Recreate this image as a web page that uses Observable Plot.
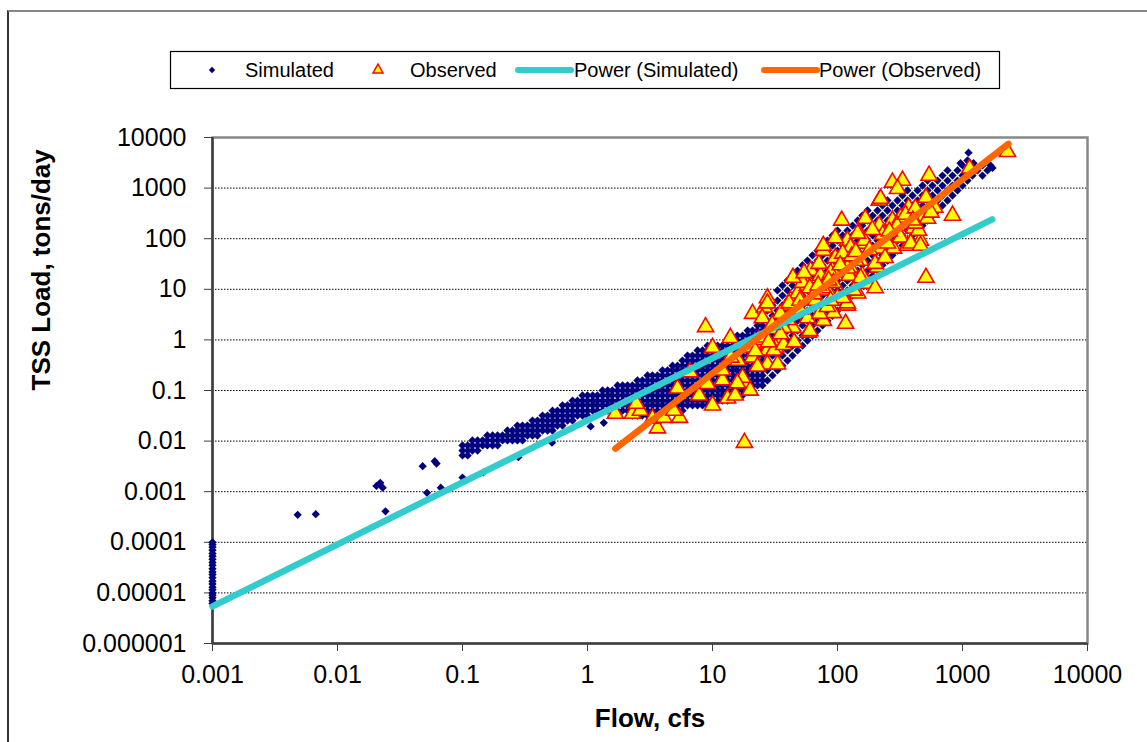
<!DOCTYPE html>
<html>
<head>
<meta charset="utf-8">
<script src="https://cdn.jsdelivr.net/npm/d3@7"></script>
<script src="https://cdn.jsdelivr.net/npm/@observablehq/plot@0.6"></script>
<style>
  html, body { margin: 0; padding: 0; background: #fff; overflow: hidden; }
  #wrap { position: relative; width: 1147px; height: 742px; overflow: hidden; font-family: "Liberation Sans", Arial, sans-serif; }
  #border { position: absolute; left: 7px; top: 10px; width: 1300px; height: 900px; border-left: 2px solid #333; border-top: 2px solid #888; box-sizing: border-box; }
  #chart { position: absolute; left: 0; top: 0; }
  #legend { position: absolute; left: 0; top: 0; }
</style>
</head>
<body>
<div id="wrap">
  <div id="border"></div>
  <div id="chart"></div>
  <svg id="legend" width="1147" height="110" font-family="Liberation Sans, Arial, sans-serif" font-size="20">
    <rect x="170.5" y="51.5" width="829" height="37" fill="#fff" stroke="#000" stroke-width="1.2"></rect>
    <path d="M212,66.8L215.2,70L212,73.2L208.8,70Z" fill="#000080"></path>
    <text x="245" y="77">Simulated</text>
    <path d="M378,64L383,73L373,73Z" fill="#ffff00" stroke="#ff0000" stroke-width="1.5"></path>
    <text x="410" y="77">Observed</text>
    <line x1="518" y1="70" x2="571" y2="70" stroke="#33cccc" stroke-width="6" stroke-linecap="round"></line>
    <text x="574" y="77">Power (Simulated)</text>
    <line x1="764" y1="70" x2="817" y2="70" stroke="#ff6600" stroke-width="6" stroke-linecap="round"></line>
    <text x="819" y="77">Power (Observed)</text>
  </svg>
</div>
<script>
// ---------- DATA ----------
const xTicks = [0.001, 0.01, 0.1, 1, 10, 100, 1000, 10000];
const yTicks = [0.000001, 0.00001, 0.0001, 0.001, 0.01, 0.1, 1, 10, 100, 1000, 10000];
const yGrid = [0.00001, 0.0001, 0.001, 0.01, 0.1, 1, 10, 100, 1000];

// Simulated: loads at zero-ish flow (0.001 cfs)
const simZeroFlow = 0.001;
const simZeroLoads = [0.0000062, 0.000007, 0.000008, 0.000009, 0.00001, 0.0000115, 0.000013, 0.000015, 0.000017, 0.00002, 0.000023, 0.000026, 0.00003, 0.000035, 0.00004, 0.000046, 0.000053, 0.00006, 0.00007, 0.00008, 0.00009, 0.0001];

// Simulated: scattered low-flow points
const simSparseFlow = [0.0048, 0.0067, 0.0205, 0.022, 0.023, 0.0242, 0.048, 0.06, 0.062, 0.052, 0.067, 0.1, 0.147, 0.28, 0.52, 1.06, 1.35];
const simSparseLoad = [0.00035, 0.00036, 0.0013, 0.0015, 0.0012, 0.00041, 0.0032, 0.004, 0.0036, 0.00095, 0.0012, 0.0019, 0.0024, 0.0048, 0.0093, 0.0195, 0.023];

// Simulated: main band, by flow with the loads read at that flow
const simColumns = [
  [0.1,[0.0082,0.0065,0.0052]],
  [0.11,[0.0082,0.0065,0.0052]],
  [0.12,[0.0103,0.0082,0.0065]],
  [0.132,[0.0103,0.0082,0.0065]],
  [0.145,[0.0103,0.0082]],
  [0.158,[0.0129,0.0103,0.0082]],
  [0.174,[0.0129,0.0103,0.0082]],
  [0.191,[0.0129,0.0103,0.0082]],
  [0.209,[0.0129,0.0103]],
  [0.229,[0.0162,0.0129,0.0103]],
  [0.251,[0.0162,0.0129,0.0103]],
  [0.275,[0.0203,0.0162,0.0129,0.0103]],
  [0.302,[0.0203,0.0162,0.0129,0.0103]],
  [0.331,[0.0203,0.0162,0.0129]],
  [0.363,[0.0255,0.0203,0.0162,0.0129]],
  [0.398,[0.0255,0.0203,0.0162,0.0129]],
  [0.437,[0.032,0.0255,0.0203,0.0162]],
  [0.479,[0.032,0.0255,0.0203,0.0162]],
  [0.525,[0.04,0.032,0.0255,0.0203,0.0162]],
  [0.575,[0.04,0.032,0.0255,0.0203]],
  [0.631,[0.051,0.04,0.032,0.0255,0.0203]],
  [0.692,[0.051,0.04,0.032,0.0255]],
  [0.759,[0.063,0.051,0.04,0.032,0.0255]],
  [0.832,[0.063,0.051,0.04,0.032]],
  [0.912,[0.08,0.063,0.051,0.04,0.032]],
  [1.0,[0.08,0.063,0.051,0.04,0.032]],
  [1.1,[0.08,0.063,0.051,0.04]],
  [1.2,[0.08,0.063,0.051,0.04]],
  [1.32,[0.1,0.08,0.063,0.051,0.04]],
  [1.45,[0.1,0.08,0.063,0.051,0.04]],
  [1.58,[0.1,0.08,0.063,0.051,0.04]],
  [1.74,[0.126,0.1,0.08,0.063,0.051,0.04]],
  [1.91,[0.126,0.1,0.08,0.063,0.051,0.04]],
  [2.09,[0.126,0.1,0.08,0.063,0.051,0.04]],
  [2.29,[0.126,0.1,0.08,0.063,0.051,0.04,0.032]],
  [2.51,[0.158,0.126,0.1,0.08,0.063,0.051,0.04,0.032]],
  [2.75,[0.158,0.126,0.1,0.08,0.063,0.051,0.04,0.032]],
  [3.02,[0.198,0.158,0.126,0.1,0.08,0.063,0.051,0.04,0.032]],
  [3.31,[0.198,0.158,0.126,0.1,0.08,0.063,0.051,0.04,0.032]],
  [3.63,[0.198,0.158,0.126,0.1,0.08,0.063,0.051,0.04]],
  [3.98,[0.25,0.198,0.158,0.126,0.1,0.08,0.063,0.051,0.04]],
  [4.37,[0.25,0.198,0.158,0.126,0.1,0.08,0.063,0.051,0.04]],
  [4.79,[0.31,0.25,0.198,0.158,0.126,0.1,0.08,0.063,0.051,0.04]],
  [5.25,[0.31,0.25,0.198,0.158,0.126,0.1,0.08,0.063,0.051,0.04]],
  [5.75,[0.39,0.31,0.25,0.198,0.158,0.126,0.1,0.08,0.063,0.051,0.04]],
  [6.31,[0.49,0.39,0.31,0.25,0.198,0.158,0.126,0.1,0.08,0.063,0.051]],
  [6.92,[0.49,0.39,0.31,0.25,0.198,0.158,0.126,0.1,0.08,0.063,0.051]],
  [7.59,[0.62,0.49,0.39,0.31,0.25,0.198,0.158,0.126,0.1,0.08,0.063,0.051]],
  [8.32,[0.62,0.49,0.39,0.31,0.25,0.198,0.158,0.126,0.1,0.08,0.063,0.051]],
  [9.12,[0.77,0.62,0.49,0.39,0.31,0.25,0.198,0.158,0.126,0.1,0.08,0.063,0.051]],
  [10,[0.77,0.62,0.49,0.39,0.31,0.25,0.198,0.158,0.126,0.1,0.08,0.063,0.051]],
  [11,[0.77,0.62,0.49,0.39,0.31,0.25,0.198,0.158,0.126,0.1,0.08,0.063]],
  [12,[0.77,0.62,0.49,0.39,0.31,0.25,0.198,0.158,0.126,0.1,0.08,0.063]],
  [13.2,[0.97,0.77,0.62,0.49,0.39,0.31,0.25,0.198,0.158,0.126,0.1,0.08,0.063]],
  [14.5,[0.97,0.77,0.62,0.49,0.39,0.31,0.25,0.198,0.158,0.126,0.1,0.08]],
  [15.8,[1.22,0.97,0.77,0.62,0.49,0.39,0.31,0.25,0.198,0.158,0.126,0.1,0.08]],
  [17.4,[1.22,0.97,0.77,0.62,0.49,0.39,0.31,0.25,0.198,0.158,0.126,0.1,0.08]],
  [19.1,[1.53,1.22,0.97,0.77,0.62,0.49,0.39,0.31,0.25,0.198,0.158,0.126,0.1]],
  [20.9,[1.53,1.22,0.97,0.77,0.62,0.49,0.39,0.31,0.25,0.198,0.158,0.126,0.1]],
  [22.9,[1.93,1.53,1.22,0.97,0.77,0.62,0.49,0.39,0.31,0.25,0.198,0.158,0.126]],
  [25.1,[2.4,1.93,1.53,1.22,0.97,0.77,0.62,0.49,0.39,0.31,0.25,0.198,0.158,0.126]],
  [27.5,[3.8,2.4,1.53,0.97,0.62,0.39,0.25,0.158]],
  [30.2,[4.8,3,1.93,1.22,0.77,0.49,0.31,0.198]],
  [33.1,[9.5,6,3.8,2.4,1.53,0.97,0.62,0.39,0.25]],
  [36.3,[11.9,7.5,4.8,3,1.93,1.22,0.77,0.49,0.31]],
  [39.8,[14.9,9.5,6,3.8,2.4,1.53,0.97,0.62,0.39]],
  [43.7,[18.7,11.9,7.5,4.8,3,1.93,1.22,0.77,0.49]],
  [47.9,[23.5,14.9,9.5,6,3.8,2.4,1.53,0.97,0.62]],
  [52.5,[30,18.7,11.9,7.5,4.8,3,1.93,1.22,0.77]],
  [57.5,[37,23.5,14.9,9.5,6,3.8,2.4,1.53,0.97]],
  [63.1,[47,30,18.7,11.9,7.5,4.8,3,1.93,1.22]],
  [69.2,[58,37,23.5,14.9,9.5,6,3.8,2.4,1.53]],
  [75.9,[73,47,30,18.7,11.9,7.5,4.8,3,1.93]],
  [83.2,[92,58,37,23.5,14.9,9.5,6,3.8,2.4]],
  [91.2,[116,73,47,30,18.7,11.9,7.5,4.8,3]],
  [100,[145,92,58,37,23.5,14.9,9.5,6,3.8]],
  [110,[116,73,47,30,18.7,11.9,7.5,4.8]],
  [120,[145,92,58,37,23.5,14.9,9.5,6]],
  [132,[182,116,73,47,30,18.7,11.9,7.5]],
  [145,[229,145,92,58,37,23.5,14.9,9.5]],
  [158,[287,182,116,73,47,30,18.7,11.9]],
  [174,[361,229,145,92,58,37,23.5,14.9]],
  [191,[287,182,116,73,47,30,18.7]],
  [209,[361,229,145,92,58,37,23.5]],
  [229,[453,287,182,116,73,47,30]],
  [251,[569,361,229,145,92,58,37]],
  [275,[453,287,182,116,73,47]],
  [302,[569,361,229,145,92,58]],
  [331,[714,453,287,182,116,73]],
  [363,[897,569,361,229,145,92]],
  [398,[714,453,287,182,116]],
  [437,[897,569,361,229,145]],
  [479,[1120,714,453,287,182]],
  [525,[1410,897,569,361,229]],
  [575,[1120,714,453,287]],
  [631,[1410,897,569,361]],
  [692,[1770,1120,714,453]],
  [759,[2230,1410,897,569]],
  [832,[1770,1120,714]],
  [912,[2230,1410,897]],
  [964,[3100]],
  [1000,[2800,1770,1120]],
  [1096,[3510,2230,1410]],
  [1117,[5000]],
  [1202,[2800,1770]],
  [1225,[3100]],
  [1318,[2230]],
  [1445,[2800,1770]],
  [1585,[2230]],
  [1675,[2800]],
  [1738,[2500]]
];

// Observed
const obsFlow = [1.67,2.29,2.65,2.46,3.63,3.31,4.1,5.45,4.9,5.25,6.6,7.8,9.1,10,13.2,15.2,12,18,20,17.4,15.8,8.8,10,13.9,18,20.9,27.5,33.1,22.9,16,24.5,27.5,23.5,33.1,32,20.9,26,27.5,44,58.5,77,116,120,93,44,39.8,27.5,35,42,37,31,25,26.5,20,31,37,57.5,72,67,83,100,120,145,174,83,48,57.5,52.5,44,61,73,71,91,124,158,127,153,209,96,77,120,150,167,221,281,363,319,242,216,275,406,461,371,108,167,216,275,331,302,540,510,600,832,1140,2290,510,479,445,319,251,385,461,221,420,525,164,127,110,140,200,240,120,88,54,60,76,93,153,200,135,110,88,41,50,77,96,145,
  40,50,65,85,105,130,180,230,300,350,420,60,35,28,45,12,14,22,30,190,260,400,560,140,70];
const obsLoad = [0.035,0.035,0.04,0.055,0.018,0.028,0.029,0.029,0.04,0.11,0.23,0.08,0.135,0.051,0.07,0.08,0.16,0.14,0.1,0.18,0.14,1.8,0.7,1.1,0.0093,0.45,0.33,0.33,0.3,0.39,0.85,0.62,1.0,1.0,0.7,3.3,4.4,6.7,1.75,1.4,2.4,2.1,4.8,3.4,3.3,4.8,5.3,3.3,6.0,1.75,1.65,2.7,1.12,0.71,0.62,0.8,2.7,3.3,6.0,4.5,6.8,5.3,8.3,13,9.5,8.3,11.9,13.5,17,23.5,18.7,32,23.5,18.7,18.7,27,37,27,42,58,92,127,80,64,64,73,106,106,182,229,160,92,411,229,250,569,1290,1410,970,1770,650,411,287,2450,5200,17,250,145,260,81,81,73,620,200,250,92,67,51,37,32,42,26,21,21,10.6,10.6,13.5,16.7,10.6,9.5,6.8,6.0,5.3,6.0,73,103,127,
  2.5,4,8,15,30,45,60,120,180,300,400,1.5,1.3,0.9,0.9,0.25,0.45,0.6,2.0,150,140,230,330,55,12];

// Power trend lines (end points)
const powerSimFlow = [0.001, 1730];
const powerSimLoad = [0.0000054, 240];
const powerObsFlow = [1.67, 2330];
const powerObsLoad = [0.0071, 7500];

// ---------- BUILD ----------
const simData = [
  ...simZeroLoads.map(l => ({flow: simZeroFlow, load: l})),
  ...simSparseFlow.map((f, i) => ({flow: f, load: simSparseLoad[i]})),
  ...simColumns.flatMap(([f, loads]) => loads.map(l => ({flow: f, load: l})))
];
const obsData = obsFlow.map((f, i) => ({flow: f, load: obsLoad[i]}));
const simPow = powerSimFlow.map((f, i) => ({flow: f, load: powerSimLoad[i]}));
const obsPow = powerObsFlow.map((f, i) => ({flow: f, load: powerObsLoad[i]}));

const diamond = {
  draw(ctx, size) {
    const h = Math.sqrt(size / 2);
    ctx.moveTo(0, -h); ctx.lineTo(h, 0); ctx.lineTo(0, h); ctx.lineTo(-h, 0); ctx.closePath();
  }
};
const fmt = d => String(d);

const chart = Plot.plot({
  width: 1147,
  height: 742,
  marginLeft: 212,
  marginRight: 60,
  marginTop: 137,
  marginBottom: 99,
  style: {fontFamily: "'Liberation Sans', Arial, sans-serif", fontSize: "25px", background: "transparent", color: "#000", overflow: "visible"},
  x: {type: "log", domain: [0.001, 10000]},
  y: {type: "log", domain: [0.000001, 10000]},
  marks: [
    Plot.ruleY(yGrid, {stroke: "#000", strokeWidth: 1, strokeDasharray: "1.5,1.5"}),
    Plot.frame({stroke: "#888", strokeWidth: 2.5}),
    Plot.ruleX([0.001], {stroke: "#404040", strokeWidth: 2.5}),
    Plot.ruleY([0.000001], {stroke: "#404040", strokeWidth: 2.5}),
    Plot.axisX({ticks: xTicks, tickFormat: fmt, tickSize: 8, tickPadding: 14, label: null, fontSize: 25, stroke: "#404040"}),
    Plot.axisY({ticks: yTicks, tickFormat: fmt, tickSize: 8, tickPadding: 18, label: null, fontSize: 25, stroke: "#404040"}),
    Plot.dot(simData, {x: "flow", y: "load", symbol: diamond, r: 3.3, fill: "#000080", stroke: "none"}),
    Plot.dot(obsData, {x: "flow", y: "load", symbol: "triangle", r: 6, fill: "#ffff00", stroke: "#ff0000", strokeWidth: 1.6}),
    Plot.line(simPow, {x: "flow", y: "load", stroke: "#33cccc", strokeWidth: 6.5, strokeLinecap: "round"}),
    Plot.line(obsPow, {x: "flow", y: "load", stroke: "#ff6600", strokeWidth: 6.5, strokeLinecap: "round"}),
    Plot.text(["Flow, cfs"], {text: d => d, frameAnchor: "bottom", dy: 75, fontWeight: "bold", fontSize: 26, lineAnchor: "middle"}),
    Plot.text(["TSS Load, tons/day"], {text: d => d, frameAnchor: "left", rotate: -90, dx: -171, fontWeight: "bold", fontSize: 26, lineAnchor: "middle"})
  ]
});
document.getElementById("chart").appendChild(chart);
</script>
</body>
</html>
